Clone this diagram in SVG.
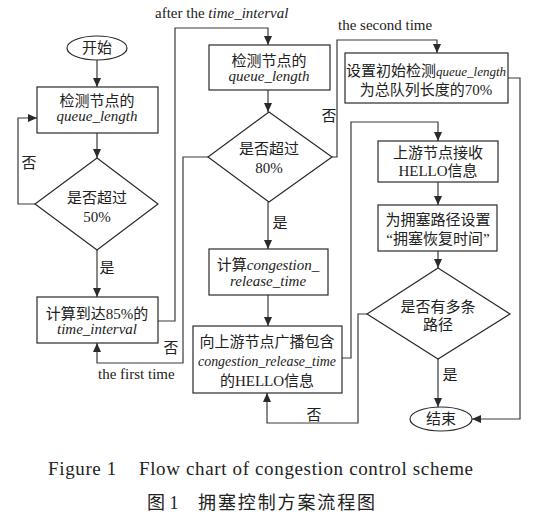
<svg xmlns="http://www.w3.org/2000/svg" width="540" height="525" viewBox="0 0 540 525">
<style>
  .shape { fill: #ffffff; stroke: #2a2a2a; stroke-width: 1.2; }
  .conn { fill: none; stroke: #3a3a3a; stroke-width: 1.2; marker-end: url(#arrow); }
  .conn0 { fill: none; stroke: #3a3a3a; stroke-width: 1.2; }
  text { font-family: "Liberation Serif", "Noto Sans CJK SC", serif; font-size: 15px; fill: #222222; }
  .c { text-anchor: middle; }
  .it { font-style: italic; }
  .cap { font-size: 19px; }
</style>
<defs>
  <marker id="arrow" markerUnits="userSpaceOnUse" markerWidth="9" markerHeight="8" refX="9" refY="4" orient="auto">
    <path d="M0,0 L9,4 L0,8 z" fill="#2a2a2a"/>
  </marker>
</defs>

<g id="connectors">
  <path class="conn" d="M97,60 L97,87"/>
  <path class="conn" d="M97,133 L97,158"/>
  <path class="conn" d="M35,204 L18,204 L18,118 L37,118"/>
  <path class="conn" d="M97,250 L97,297"/>
  <path class="conn" d="M158,321 L175,321 L175,28 L268,28 L268,45"/>
  <path class="conn" d="M268,90 L268,112"/>
  <path class="conn" d="M268,202 L268,249"/>
  <path class="conn" d="M268,295 L268,326"/>
  <path class="conn" d="M208,157 L183,157 L183,363 L97,363 L97,343"/>
  <path class="conn" d="M332,157 L337,157 L337,40 L437,40 L437,53"/>
  <path class="conn" d="M342,358 L351,358 L351,122 L438,122 L438,141"/>
  <path class="conn" d="M438,182 L438,205"/>
  <path class="conn" d="M438,251 L438,268"/>
  <path class="conn" d="M438,359 L438,407"/>
  <path class="conn" d="M367,314 L358,314 L358,423 L267,423 L267,393"/>
  <path class="conn" d="M508,78 L520,78 L520,419 L472,419"/>
  <text x="29" y="168" class="c">否</text>
  <text x="107" y="273" class="c">是</text>
  <text x="171" y="353" class="c">否</text>
  <text x="98" y="379">the first time</text>
  <text x="155" y="18">after the <tspan class="it">time_interval</tspan></text>
  <text x="280" y="228" class="c">是</text>
  <text x="329" y="121" class="c">否</text>
  <text x="338" y="30">the second time</text>
  <text x="450" y="380" class="c">是</text>
  <text x="314" y="420" class="c">否</text>
</g>

<g id="start">
  <ellipse class="shape" cx="97" cy="48" rx="30" ry="12"/>
  <text x="97" y="53" class="c">开始</text>
</g>
<g id="detect1">
  <rect class="shape" x="37" y="87" width="121" height="46"/>
  <text x="97" y="106" class="c">检测节点的</text>
  <text x="97" y="121" class="c it">queue_length</text>
</g>
<g id="check50">
  <polygon class="shape" points="97,158 158,204 97,250 35,204"/>
  <text x="97" y="203" class="c">是否超过</text>
  <text x="97" y="222" class="c">50%</text>
</g>
<g id="calcInterval">
  <rect class="shape" x="37" y="297" width="121" height="46"/>
  <text x="97" y="319" class="c">计算到达85%的</text>
  <text x="97" y="334" class="c it">time_interval</text>
</g>
<g id="detect2">
  <rect class="shape" x="209" y="45" width="121" height="45"/>
  <text x="269" y="66" class="c">检测节点的</text>
  <text x="269" y="81" class="c it">queue_length</text>
</g>
<g id="check80">
  <polygon class="shape" points="269,112 332,157 269,202 208,157"/>
  <text x="269" y="154" class="c">是否超过</text>
  <text x="269" y="173" class="c">80%</text>
</g>
<g id="calcRelease">
  <rect class="shape" x="209" y="249" width="119" height="46"/>
  <text x="268" y="270" class="c">计算<tspan class="it">congestion_</tspan></text>
  <text x="268" y="286" class="c it">release_time</text>
</g>
<g id="broadcast">
  <rect class="shape" x="193" y="326" width="149" height="67"/>
  <text x="267" y="347" class="c">向上游节点广播包含</text>
  <text x="267" y="366" class="c it" style="font-size:14px" textLength="138" lengthAdjust="spacingAndGlyphs">congestion_release_time</text>
  <text x="267" y="386" class="c">的HELLO信息</text>
</g>
<g id="setInitial">
  <rect class="shape" x="345" y="53" width="163" height="50"/>
  <text x="426" y="76" class="c">设置初始检测<tspan class="it" style="font-size:13px">queue_length</tspan></text>
  <text x="426" y="95" class="c">为总队列长度的70%</text>
</g>
<g id="receive">
  <rect class="shape" x="378" y="141" width="120" height="41"/>
  <text x="438" y="158" class="c">上游节点接收</text>
  <text x="438" y="176" class="c">HELLO信息</text>
</g>
<g id="setRecovery">
  <rect class="shape" x="378" y="205" width="119" height="46"/>
  <text x="438" y="225" class="c">为拥塞路径设置</text>
  <text x="438" y="244" class="c">“拥塞恢复时间”</text>
</g>
<g id="multiPath">
  <polygon class="shape" points="438,268 510,314 438,359 367,314"/>
  <text x="438" y="312" class="c">是否有多条</text>
  <text x="438" y="330" class="c">路径</text>
</g>
<g id="end">
  <ellipse class="shape" cx="441" cy="419" rx="31" ry="12"/>
  <text x="441" y="424" class="c">结束</text>
</g>

<g id="caption">
  <text x="48" y="475" class="cap" textLength="425" lengthAdjust="spacing">Figure 1<tspan dx="22">Flow chart of congestion control scheme</tspan></text>
  <text x="147" y="509" class="cap" style="font-size:18px">图 1</text>
  <text x="198" y="509" class="cap" style="font-size:18px" textLength="177" lengthAdjust="spacing">拥塞控制方案流程图</text>
</g>
</svg>
